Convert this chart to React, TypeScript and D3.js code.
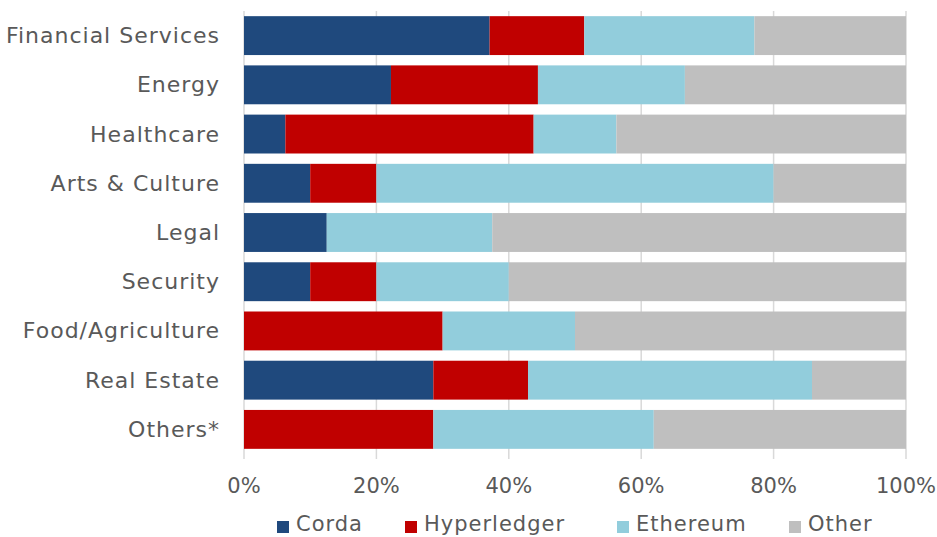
import { useEffect } from 'react'
import * as d3 from 'd3'

const categories = [
  'Financial Services',
  'Energy',
  'Healthcare',
  'Arts & Culture',
  'Legal',
  'Security',
  'Food/Agriculture',
  'Real Estate',
  'Others*',
]
const seriesNames = ['Corda', 'Hyperledger', 'Ethereum', 'Other']
const corda = [37.1, 22.2, 6.25, 10, 12.5, 10, 0, 28.6, 0]
const hyperledger = [14.3, 22.2, 37.5, 10, 0, 10, 30, 14.3, 28.6]
const ethereum = [25.7, 22.2, 12.5, 60, 25, 20, 20, 42.9, 33.3]
const other = [22.9, 33.4, 43.75, 20, 62.5, 60, 50, 14.2, 38.1]
const xTicks = [0, 20, 40, 60, 80, 100]

const colors = ['#1F497D', '#C00000', '#92CDDC', '#BFBFBF']
const font = '"DejaVu Sans", sans-serif'
const textColor = '#595959'

export default function App() {
  useEffect(() => {
    document.body.style.margin = '0'
  }, [])

  const width = 937
  const height = 537
  const margin = { left: 244, right: 31, top: 11, bottom: 83 }

  const rows = categories.map((c, i) => ({
    category: c,
    Corda: corda[i],
    Hyperledger: hyperledger[i],
    Ethereum: ethereum[i],
    Other: other[i],
  }))
  const stacked = d3.stack<any>().keys(seriesNames).offset(d3.stackOffsetExpand)(rows)

  const x = d3.scaleLinear().domain([0, 1]).range([margin.left, width - margin.right])
  const y = d3
    .scaleBand()
    .domain(categories)
    .range([margin.top, height - margin.bottom])
    .paddingInner(0.21)
    .paddingOuter(0.105)

  const axisY = height - margin.bottom

  // legend positions (x of square)
  const legendX = [277, 405, 617, 789]

  return (
    <svg width={width} height={height} style={{ display: 'block' }}>
      {/* gridlines */}
      {xTicks.map((t) => (
        <line
          key={t}
          x1={x(t / 100)}
          x2={x(t / 100)}
          y1={margin.top}
          y2={axisY + 5}
          stroke="#D9D9D9"
          strokeWidth={1.5}
        />
      ))}

      {/* bars */}
      {stacked.map((s, si) => (
        <g key={s.key} fill={colors[si]}>
          {s.map((d, i) => (
            <rect
              key={i}
              x={x(d[0])}
              width={Math.max(0, x(d[1]) - x(d[0]))}
              y={y(categories[i])}
              height={y.bandwidth()}
            />
          ))}
        </g>
      ))}

      {/* category labels */}
      {categories.map((c) => (
        <text
          key={c}
          x={margin.left - 24}
          y={(y(c) ?? 0) + y.bandwidth() / 2}
          textAnchor="end"
          dominantBaseline="central"
          fontFamily={font}
          fontSize={22}
          letterSpacing={1}
          fill={textColor}
        >
          {c}
        </text>
      ))}

      {/* x tick labels */}
      {xTicks.map((t) => (
        <text
          key={t}
          x={x(t / 100)}
          y={486}
          textAnchor="middle"
          dominantBaseline="central"
          fontFamily={font}
          fontSize={21}
          fill={textColor}
        >
          {t}%
        </text>
      ))}

      {/* legend */}
      {seriesNames.map((n, i) => (
        <g key={n} transform={`translate(${legendX[i]},0)`}>
          <rect x={0} y={521} width={12} height={12} fill={colors[i]} />
          <text
            x={19}
            y={531}
            fontFamily={font}
            fontSize={21}
            letterSpacing={1}
            fill={textColor}
          >
            {n}
          </text>
        </g>
      ))}
    </svg>
  )
}
